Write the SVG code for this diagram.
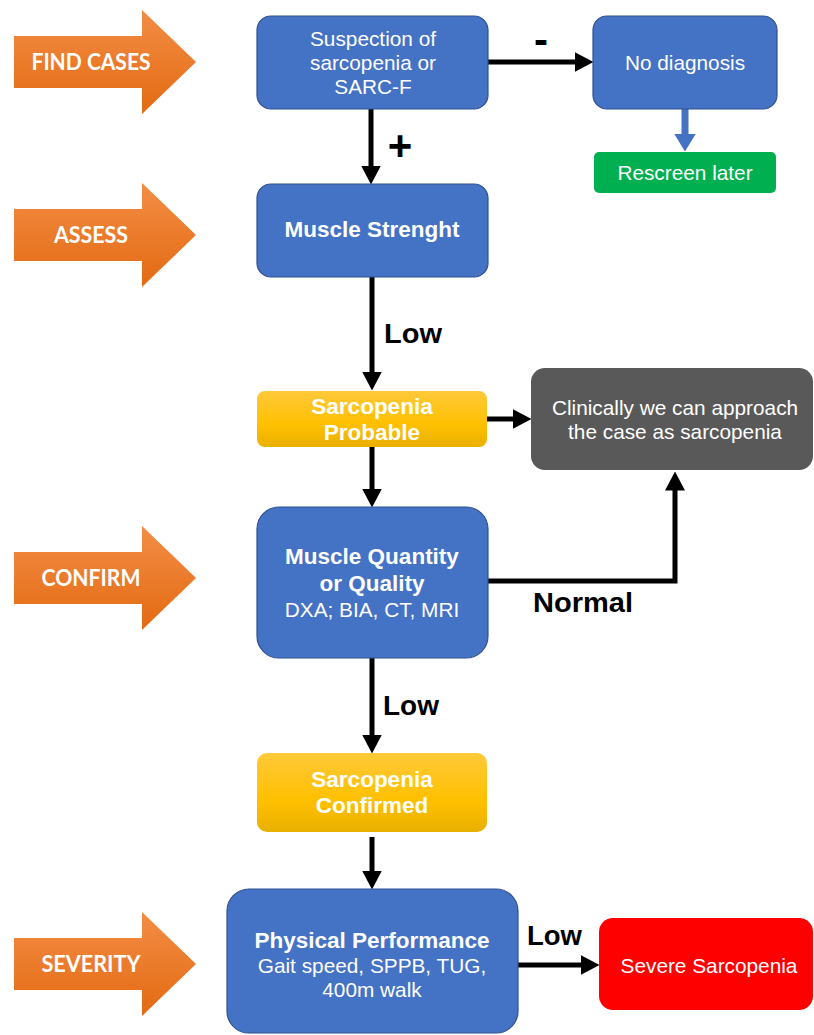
<svg xmlns="http://www.w3.org/2000/svg" width="814" height="1035" viewBox="0 0 814 1035">
<defs>
<linearGradient id="gOrange" x1="0" y1="0" x2="0" y2="1">
<stop offset="0" stop-color="#F38D45"/>
<stop offset="1" stop-color="#E36A12"/>
</linearGradient>
<linearGradient id="gYellow" x1="0" y1="0" x2="0" y2="1">
<stop offset="0" stop-color="#FFC93A"/>
<stop offset="0.6" stop-color="#FFC000"/>
<stop offset="1" stop-color="#E8B000"/>
</linearGradient>
<marker id="ah" markerUnits="userSpaceOnUse" markerWidth="19" markerHeight="20" refX="0.5" refY="10" orient="auto" viewBox="0 0 19 20">
<path d="M0,0 L19,10 L0,20 Z" fill="#000"/>
</marker>
<marker id="ahBlue" markerUnits="userSpaceOnUse" markerWidth="18" markerHeight="22" refX="0.5" refY="11" orient="auto" viewBox="0 0 18 22">
<path d="M0,0 L18,11 L0,22 Z" fill="#4472C4"/>
</marker>
</defs>
<style>
.stage{fill:url(#gOrange);}
.stageT{font-family:Lato,"Open Sans",sans-serif;font-weight:bold;font-size:22px;fill:#fff;text-anchor:middle;}
.blue{fill:#4472C4;stroke:#2F528F;stroke-width:1.2;}
.yellow{fill:url(#gYellow);}
.t{font-family:"Liberation Sans",Arial,sans-serif;font-size:20.8px;fill:#fff;text-anchor:middle;}
.tb{font-family:"Liberation Sans",Arial,sans-serif;font-size:22.5px;font-weight:bold;fill:#fff;text-anchor:middle;}
.lbl{font-family:"Liberation Sans",Arial,sans-serif;font-weight:bold;fill:#000;}
.con{fill:none;stroke:#000;stroke-width:5;marker-end:url(#ah);}
</style>
<rect width="814" height="1035" fill="#fff"/>

<g id="stage-find">
<path class="stage" d="M14,36 H142 V10 L196,62 L142,114 V88 H14 Z"/>
<text class="stageT" x="91" y="70" textLength="119" lengthAdjust="spacingAndGlyphs">FIND CASES</text>
</g>
<g id="stage-assess">
<path class="stage" d="M14,209 H142 V183 L196,235 L142,287 V261 H14 Z"/>
<text class="stageT" x="91" y="243" textLength="74" lengthAdjust="spacingAndGlyphs">ASSESS</text>
</g>
<g id="stage-confirm">
<path class="stage" d="M14,552 H142 V526 L196,578 L142,630 V604 H14 Z"/>
<text class="stageT" x="91" y="586" textLength="99" lengthAdjust="spacingAndGlyphs">CONFIRM</text>
</g>
<g id="stage-severity">
<path class="stage" d="M14,938 H142 V912 L196,964 L142,1016 V990 H14 Z"/>
<text class="stageT" x="91" y="972" textLength="99" lengthAdjust="spacingAndGlyphs">SEVERITY</text>
</g>

<g id="connectors">
<line class="con" x1="371" y1="109" x2="371" y2="166"/>
<line class="con" x1="488" y1="62" x2="575" y2="62"/>
<line x1="685" y1="109" x2="685" y2="134" stroke="#4472C4" stroke-width="7" marker-end="url(#ahBlue)"/>
<line class="con" x1="372" y1="277" x2="372" y2="372"/>
<line class="con" x1="487" y1="419" x2="513" y2="419"/>
<line class="con" x1="372" y1="447" x2="372" y2="489"/>
<path class="con" d="M488,581 H675 V490"/>
<line class="con" x1="372" y1="658" x2="372" y2="735"/>
<line class="con" x1="372" y1="837" x2="372" y2="871"/>
<line class="con" x1="518" y1="965" x2="581" y2="965"/>
<text class="lbl" x="400" y="160" font-size="42" text-anchor="middle">+</text>
<text class="lbl" x="541" y="54" font-size="42" text-anchor="middle">-</text>
<text class="lbl" x="384" y="343" font-size="27" textLength="58" lengthAdjust="spacingAndGlyphs">Low</text>
<text class="lbl" x="533" y="612" font-size="28" textLength="100" lengthAdjust="spacingAndGlyphs">Normal</text>
<text class="lbl" x="383" y="715" font-size="27" textLength="56" lengthAdjust="spacingAndGlyphs">Low</text>
<text class="lbl" x="527" y="945" font-size="27" textLength="55" lengthAdjust="spacingAndGlyphs">Low</text>
</g>

<g id="node-suspection">
<rect class="blue" x="257" y="16" width="231" height="93" rx="14"/>
<text class="t" x="373" y="46">Suspection of</text>
<text class="t" x="373" y="70">sarcopenia or</text>
<text class="t" x="373" y="94">SARC-F</text>
</g>
<g id="node-nodiagnosis">
<rect class="blue" x="593" y="16" width="184" height="93" rx="14"/>
<text class="t" x="685" y="70">No diagnosis</text>
</g>
<g id="node-rescreen">
<rect x="594" y="152" width="182" height="41" rx="5" fill="#00B050"/>
<text class="t" x="685" y="180">Rescreen later</text>
</g>
<g id="node-strength">
<rect class="blue" x="257" y="184" width="231" height="93" rx="14"/>
<text class="tb" x="372" y="237">Muscle Strenght</text>
</g>
<g id="node-probable">
<rect class="yellow" x="257" y="391" width="230" height="56" rx="8"/>
<text class="tb" x="372" y="414">Sarcopenia</text>
<text class="tb" x="372" y="440">Probable</text>
</g>
<g id="node-clinical">
<rect x="531" y="368" width="282" height="102" rx="14" fill="#595959"/>
<text class="t" x="675" y="415">Clinically we can approach</text>
<text class="t" x="675" y="439">the case as sarcopenia</text>
</g>
<g id="node-quantity">
<rect class="blue" x="257" y="507" width="231" height="151" rx="22"/>
<text class="tb" x="372" y="564">Muscle Quantity</text>
<text class="tb" x="372" y="591">or Quality</text>
<text class="t" x="372" y="617">DXA; BIA, CT, MRI</text>
</g>
<g id="node-confirmed">
<rect class="yellow" x="257" y="753" width="230" height="79" rx="10"/>
<text class="tb" x="372" y="787">Sarcopenia</text>
<text class="tb" x="372" y="813">Confirmed</text>
</g>
<g id="node-performance">
<rect class="blue" x="227" y="889" width="291" height="144" rx="22"/>
<text class="tb" x="372" y="948">Physical Performance</text>
<text class="t" x="372" y="973">Gait speed, SPPB, TUG,</text>
<text class="t" x="372" y="997">400m walk</text>
</g>
<g id="node-severe">
<rect x="599" y="918" width="214" height="92" rx="14" fill="#FF0000"/>
<text class="t" x="709" y="973">Severe Sarcopenia</text>
</g>
</svg>
